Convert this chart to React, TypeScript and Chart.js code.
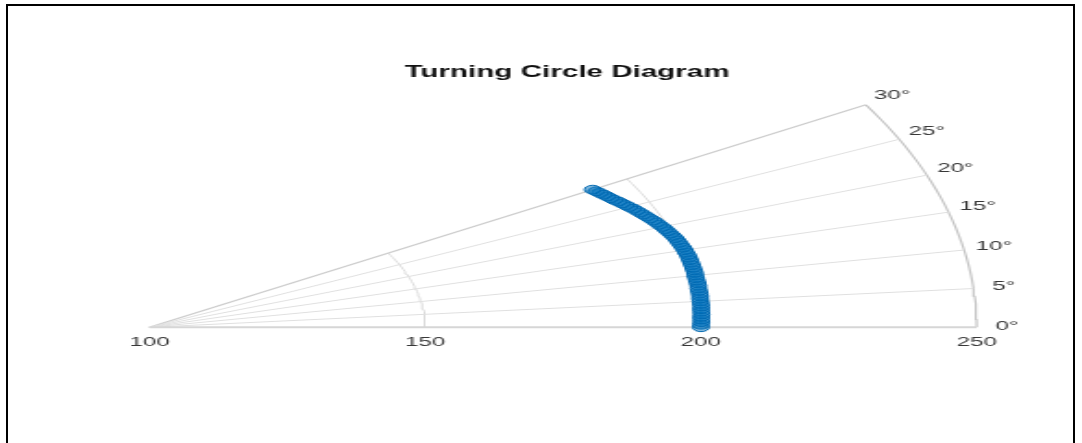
import React, { useEffect, useRef } from "react";
import { Chart, registerables } from "chart.js";

Chart.register(...registerables);

// ---- data ----
const chartTitle = "Turning Circle Diagram";

// heading angle (deg) of each recorded point
const headingDeg = [
  0, 0.5, 1, 1.5, 2, 2.5, 3, 3.5, 4, 4.5, 5, 5.5, 6, 6.5, 7, 7.5, 8, 8.5, 9, 9.5,
  10, 10.5, 11, 11.5, 12, 12.5, 13, 13.5, 14, 14.5, 15, 15.5, 16, 16.5, 17, 17.5,
  18, 18.5, 19, 19.5, 20, 20.5, 21, 21.5, 22, 22.5, 23, 23.5, 24, 24.5, 25, 25.5,
  26, 26.5, 27, 27.5, 28, 28.5, 29, 29.5, 30,
];

// radius of each recorded point
const radiusVals = [
  200.0, 200.0, 200.1, 200.1, 200.1, 200.2, 200.2, 200.2, 200.3, 200.3, 200.3, 200.3,
  200.4, 200.4, 200.4, 200.4, 200.5, 200.5, 200.5, 200.5, 200.5, 200.6, 200.6, 200.6,
  200.6, 200.6, 200.6, 200.6, 200.6, 200.5, 200.5, 200.4, 200.3, 200.2, 200.1, 200.0,
  199.8, 199.6, 199.4, 199.2, 199.0, 198.7, 198.5, 198.2, 197.9, 197.6, 197.3, 197.0,
  196.7, 196.4, 196.0, 195.7, 195.3, 195.0, 194.6, 194.3, 194.0, 193.7, 193.4, 193.1,
  192.8,
];

const thetaTicks = [0, 5, 10, 15, 20, 25, 30];
const thetaTickLabels = ["0°", "5°", "10°", "15°", "20°", "25°", "30°"];
const rTicks = [100, 150, 200, 250];
const rTickLabels = ["100", "150", "200", "250"];
const R_MIN = 100;
const R_MAX = 250;
const THETA_MAX = 30;

// ---- layout / style ----
const VIEW_W = 1082;
const VIEW_H = 443;
const CANVAS_W = 585; // drawn at equal aspect, stretched horizontally like the reference
const CANVAS_H = 443;
const PAD_LEFT = 28.2;
const TITLE_PAD_TOP = 63;
const TITLE_SIZE = 16;
const PX_PER_UNIT = 3.011;
const ORIGIN_X = 81.3;
const ORIGIN_Y = 331;
const FONT = "'Liberation Sans', Arial, Helvetica, sans-serif";
const TEXT_COLOR = "#383838";
const LABEL_RHO = 155.5;

const toXY = (tDeg: number, r: number) => {
  const a = (tDeg * Math.PI) / 180;
  return { x: (r - R_MIN) * Math.cos(a), y: (r - R_MIN) * Math.sin(a) };
};

export default function App() {
  const ref = useRef<HTMLCanvasElement>(null);

  useEffect(() => {
    const canvas = ref.current;
    if (!canvas) return;

    const dataPts = headingDeg.map((t, i) => toXY(t, radiusVals[i]));

    const arcAngles: number[] = [];
    for (let t = 0; t <= THETA_MAX; t += 1) arcAngles.push(t);

    const gridSets: any[] = [];
    thetaTicks.forEach((t) => {
      const isEdge = t === 0 || t === THETA_MAX;
      gridSets.push({
        label: `spoke${t}`,
        data: [toXY(t, R_MIN), toXY(t, R_MAX)],
        showLine: true,
        borderColor: t === 0 ? "#d6d6d6" : isEdge ? "#cbcbcb" : "#e0e0e0",
        borderWidth: t === 0 ? 2 : isEdge ? 1.2 : 1,
        pointRadius: 0,
        fill: false,
        order: 2,
      });
    });
    rTicks
      .filter((r) => r > R_MIN)
      .forEach((r) => {
        const outer = r === R_MAX;
        gridSets.push({
          label: `arc${r}`,
          data: arcAngles.map((t) => toXY(t, r)),
          showLine: true,
          borderColor: outer ? "#c4c4c4" : "#dcdcdc",
          borderWidth: outer ? 1.2 : 1,
          pointRadius: 0,
          fill: false,
          tension: 0,
          order: 2,
        });
      });

    const chartTop = TITLE_PAD_TOP + TITLE_SIZE * 1.2;
    const xMin = -(ORIGIN_X - PAD_LEFT) / PX_PER_UNIT;
    const xMax = xMin + (CANVAS_W - PAD_LEFT) / PX_PER_UNIT;
    const yMin = -(CANVAS_H - ORIGIN_Y) / PX_PER_UNIT;
    const yMax = (ORIGIN_Y - chartTop) / PX_PER_UNIT;

    const labelPlugin = {
      id: "polarLabels",
      afterDatasetsDraw(chart: any) {
        const { ctx, scales } = chart;
        const xs = scales.x;
        const ys = scales.y;
        ctx.save();
        ctx.font = `13px ${FONT}`;
        ctx.fillStyle = TEXT_COLOR;
        ctx.textAlign = "center";
        ctx.textBaseline = "middle";
        const y0 = ys.getPixelForValue(0);
        rTicks.forEach((r, i) => {
          ctx.fillText(rTickLabels[i], xs.getPixelForValue(r - R_MIN), y0 + 15);
        });
        thetaTicks.forEach((t, i) => {
          const p = toXY(t, R_MIN + LABEL_RHO);
          ctx.fillText(thetaTickLabels[i], xs.getPixelForValue(p.x), ys.getPixelForValue(p.y) - 1);
        });
        ctx.restore();
      },
    };

    const chart = new Chart(canvas, {
      type: "scatter",
      data: {
        datasets: [
          {
            label: "path",
            data: dataPts,
            pointStyle: "circle",
            pointRadius: 4.4,
            borderWidth: 1,
            borderColor: "#0068b0",
            backgroundColor: "rgba(0,114,189,0.5)",
            showLine: false,
            order: 0,
          } as any,
          ...gridSets,
        ],
      },
      options: {
        responsive: false,
        animation: false,
        devicePixelRatio: 1,
        events: [],
        layout: { padding: { left: PAD_LEFT, right: 0, top: 0, bottom: 0 } },
        scales: {
          x: { type: "linear", min: xMin, max: xMax, display: false },
          y: { type: "linear", min: yMin, max: yMax, display: false },
        },
        plugins: {
          legend: { display: false },
          tooltip: { enabled: false },
          title: {
            display: true,
            text: chartTitle,
            color: "#111",
            font: { size: TITLE_SIZE, weight: "bold", family: FONT },
            padding: { top: TITLE_PAD_TOP, bottom: 0 },
          },
        },
      },
      plugins: [labelPlugin],
    });

    return () => chart.destroy();
  }, []);

  return (
    <div
      style={{
        position: "fixed",
        left: 0,
        top: 0,
        width: VIEW_W,
        height: VIEW_H,
        overflow: "hidden",
        background: "#fff",
      }}
    >
      <canvas
        ref={ref}
        width={CANVAS_W}
        height={CANVAS_H}
        style={{ position: "absolute", left: 0, top: 0, width: VIEW_W, height: VIEW_H }}
      />
      <div
        style={{
          position: "absolute",
          left: 6,
          top: 4,
          width: 1069,
          height: 460,
          boxSizing: "border-box",
          borderLeft: "2px solid #000",
          borderTop: "2px solid #000",
          borderRight: "2px solid #000",
          pointerEvents: "none",
        }}
      />
    </div>
  );
}
